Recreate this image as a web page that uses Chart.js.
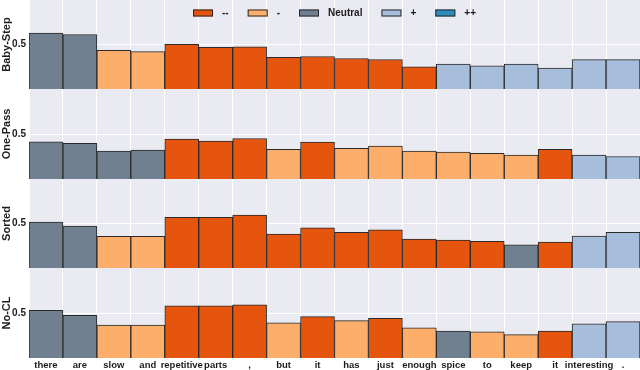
<!DOCTYPE html>
<html><head><meta charset="utf-8">
<script src="https://cdn.jsdelivr.net/npm/chart.js@4"></script>
<style>
html,body{margin:0;padding:0;background:#fff;}
#wrap{position:relative;width:640px;height:370px;}
#wrap canvas{position:absolute;left:0;}
</style></head><body>
<div id="wrap">
<canvas id="c1" width="640" height="89" style="top:0px"></canvas>
<canvas id="c2" width="640" height="90" style="top:89px"></canvas>
<canvas id="c3" width="640" height="89" style="top:179px"></canvas>
<canvas id="c4" width="640" height="102" style="top:268px"></canvas>
</div>
<script>
const tokens = ['there','are','slow','and','repetitive','parts',',','but','it','has','just','enough','spice','to','keep','it','interesting','.'];
const panelNames = ['Baby-Step','One-Pass','Sorted','No-CL'];
const yTicks = [0.5];

const babyStep = [0.627,0.612,0.435,0.42,0.503,0.468,0.475,0.355,0.365,0.343,0.331,0.25,0.28,0.26,0.28,0.235,0.33,0.33];
const babyStepClass = ['N','N','-','-','--','--','--','--','--','--','--','--','+','+','+','+','+','+'];

const onePass = [0.413,0.395,0.309,0.32,0.444,0.42,0.45,0.33,0.41,0.34,0.365,0.31,0.30,0.285,0.265,0.33,0.265,0.25];
const onePassClass = ['N','N','N','N','--','--','--','-','--','-','-','-','-','-','-','--','+','+'];

const sortedV = [0.517,0.472,0.355,0.355,0.57,0.57,0.595,0.38,0.45,0.40,0.43,0.325,0.315,0.30,0.26,0.29,0.36,0.40];
const sortedClass = ['N','N','-','-','--','--','--','--','--','--','--','--','--','--','N','--','+','+'];

const noCL = [0.53,0.475,0.365,0.365,0.58,0.58,0.59,0.39,0.46,0.415,0.44,0.335,0.30,0.29,0.26,0.30,0.38,0.405];
const noCLClass = ['N','N','-','-','--','--','--','-','--','-','--','-','N','-','-','--','+','+'];

const legendKeys = ['--','-','N','+','++'];
const legendText = ['--','-','Neutral','+','++'];
const colors = {'--':'#E6550D','-':'#FDAE6B','N':'#708090','+':'#A6BDDB','++':'#2B8CBE'};

const TXT = '#1c1c1c';
const FONT = '"Liberation Sans", Arial, Helvetica, sans-serif';

const bgPlugin = {
  id:'bg',
  beforeDraw(chart){
    const a = chart.chartArea, ctx = chart.ctx;
    ctx.save(); ctx.fillStyle = '#EAEAF2';
    ctx.fillRect(a.left, a.top, a.right-a.left, a.bottom-a.top);
    ctx.restore();
  }
};

const legendPlugin = {
  id:'customLegend',
  afterDraw(chart){
    const a = chart.chartArea, ctx = chart.ctx;
    ctx.save();
    ctx.font = 'bold 10px ' + FONT;
    const boxW = 20, boxH = 7, gapText = 9, gapItem = 19;
    const widths = legendText.map(t=>ctx.measureText(t).width);
    let total = widths.reduce((s,w)=>s+boxW+gapText+w,0) + gapItem*(legendText.length-1);
    let x = (a.left + a.right)/2 - total/2;
    const yBox = a.top + 9.5, yText = a.top + 13;
    legendKeys.forEach((k,i)=>{
      ctx.fillStyle = colors[k];
      ctx.fillRect(x, yBox, boxW, boxH);
      ctx.strokeStyle = '#2a2a2a'; ctx.lineWidth = 1;
      ctx.strokeRect(x+0.5, yBox+0.5, boxW-1, boxH-1);
      ctx.fillStyle = TXT; ctx.textBaseline = 'middle'; ctx.textAlign = 'left';
      ctx.fillText(legendText[i], x + boxW + gapText, yText);
      x += boxW + gapText + widths[i] + gapItem;
    });
    ctx.restore();
  }
};

function makeChart(id, values, classes, name, showX, showLegend){
  return new Chart(document.getElementById(id), {
    type:'bar',
    data:{labels:tokens, datasets:[{
      data:values,
      backgroundColor:classes.map(c=>colors[c]),
      borderColor:'#2a2a2a',
      borderWidth:1,
      barPercentage:1,
      categoryPercentage:1
    }]},
    options:{
      responsive:false, animation:false,
      layout:{padding:0},
      plugins:{
        tooltip:{enabled:false},
        legend:{display:false}
      },
      scales:{
        x:{
          grid:{offset:true, color:'#ffffff', lineWidth:1, drawTicks:false},
          border:{display:false},
          ticks:{display:showX, autoSkip:false, maxRotation:0, minRotation:0, padding:2, color:TXT,
                 font:{family:FONT, size:9.5, weight:'bold'}},
          afterFit(s){ s.height = showX ? 12 : 0; s.paddingLeft = 0; s.paddingRight = 0; }
        },
        y:{
          min:0, max:1,
          afterBuildTicks(s){ s.ticks = yTicks.map(v=>({value:v})); },
          grid:{color:'#ffffff', lineWidth:1, drawTicks:false},
          border:{display:false},
          ticks:{padding:3, color:TXT, font:{family:FONT, size:10, weight:'bold'},
                 callback:v=>v.toFixed(1)},
          title:{display:true, text:name, color:TXT, padding:{top:0,bottom:0},
                 font:{family:FONT, size:11, weight:'bold'}},
          afterFit(s){ s.width = 29; s.paddingTop = 0; s.paddingBottom = 0; }
        }
      }
    },
    plugins:showLegend ? [bgPlugin, legendPlugin] : [bgPlugin]
  });
}

makeChart('c1', babyStep, babyStepClass, panelNames[0], false, true);
makeChart('c2', onePass, onePassClass, panelNames[1], false, false);
makeChart('c3', sortedV, sortedClass, panelNames[2], false, false);
makeChart('c4', noCL, noCLClass, panelNames[3], true, false);
</script>
</body></html>
